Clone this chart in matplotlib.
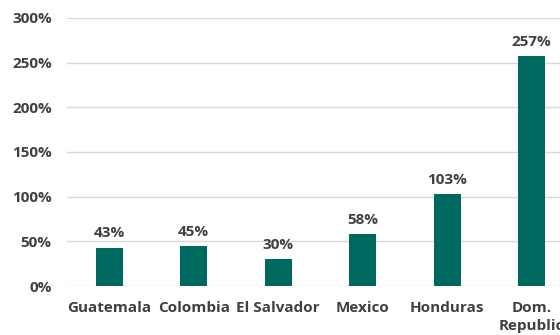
import matplotlib
matplotlib.use("Agg")
from matplotlib import pyplot as plt

countries = ["Guatemala", "Colombia", "El Salvador", "Mexico", "Honduras", "Dom.\nRepublic"]
values = [43, 45, 30, 58, 103, 257]
yticks = [0, 50, 100, 150, 200, 250, 300]

plt.rcParams['font.family'] = ['Open Sans', 'DejaVu Sans']
text_color = "#404040"

fig = plt.figure(figsize=(5.6, 3.35), dpi=100)
ax = fig.add_axes([67/560, 49/335, 507/560, 268/335])

x = range(len(countries))
bars = ax.bar(x, values, width=0.32, color="#00695F", zorder=3)
for xi, v in zip(x, values):
    ax.text(xi, v + 8, f"{v}%", ha="center", va="bottom",
            fontsize=11, fontweight="bold", color=text_color)

ax.set_xlim(-0.5, len(countries) - 0.5)
ax.set_ylim(0, 300)
ax.set_yticks(yticks)
ax.set_yticklabels([f"{t}%" for t in yticks])
ax.set_xticks(list(x))
ax.set_xticklabels(countries, linespacing=1.3)
ax.tick_params(axis="both", length=0, labelsize=11, labelcolor=text_color)
ax.tick_params(axis="y", pad=11)
ax.tick_params(axis="x", pad=11)
for lab in ax.get_xticklabels() + ax.get_yticklabels():
    lab.set_fontweight("bold")
ax.grid(axis="y", color="#d9d9d9", linewidth=1, zorder=0)
for s in ax.spines.values():
    s.set_visible(False)

fig.savefig("out.png", dpi=100)
